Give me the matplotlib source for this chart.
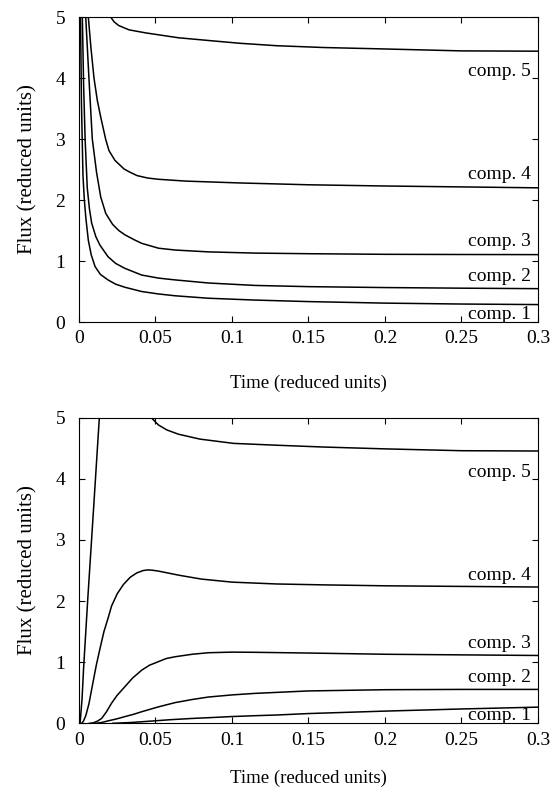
import numpy as np
import matplotlib
matplotlib.use('Agg')
import matplotlib.pyplot as plt

plt.rcParams['font.family'] = ['Liberation Serif', 'DejaVu Serif']

labels = ['comp. 1', 'comp. 2', 'comp. 3', 'comp. 4', 'comp. 5']
label_y = [0.05, 0.68, 1.24, 2.34, 4.03]
x_ticks = [0, 0.05, 0.1, 0.15, 0.2, 0.25, 0.3]
x_tick_labels = ['0', '0.05', '0.1', '0.15', '0.2', '0.25', '0.3']
y_ticks = [0, 1, 2, 3, 4, 5]

# top panel, values (None = off the top of the frame)
top_t1 = [0.001, 0.0016, 0.0026, 0.0035, 0.0045, 0.0061, 0.008, 0.0105, 0.014, 0.019, 0.024, 0.030, 0.041, 0.052,
          0.063, 0.0845, 0.115, 0.15, 0.2, 0.25, 0.3]
top_f1 = [5.0, 3.6, 2.4, 2.0, 1.7, 1.34, 1.1, 0.91, 0.78, 0.69, 0.62, 0.57, 0.50, 0.46,
          0.43, 0.39, 0.36, 0.335, 0.31, 0.295, 0.286]
top_t2 = [0.0022, 0.003, 0.004, 0.0054, 0.0068, 0.0083, 0.011, 0.0137, 0.019, 0.024, 0.030, 0.041, 0.052,
          0.063, 0.0845, 0.115, 0.15, 0.2, 0.25, 0.3]
top_f2 = [5.0, 3.9, 3.0, 2.2, 1.86, 1.62, 1.40, 1.26, 1.07, 0.96, 0.88, 0.77, 0.72,
          0.69, 0.64, 0.60, 0.58, 0.565, 0.555, 0.547]
top_t3 = [0.0044, 0.0065, 0.0087, 0.0115, 0.0142, 0.0175, 0.022, 0.026, 0.030, 0.036, 0.041, 0.052,
          0.063, 0.0845, 0.115, 0.15, 0.2, 0.25, 0.3]
top_f3 = [5.0, 4.0, 3.0, 2.45, 2.05, 1.78, 1.6, 1.5, 1.43, 1.35, 1.29, 1.21,
          1.18, 1.15, 1.13, 1.12, 1.11, 1.107, 1.105]
top_t4 = [0.0061, 0.0078, 0.0098, 0.012, 0.0142, 0.0174, 0.0196, 0.0235, 0.0294, 0.033, 0.038, 0.045, 0.052,
          0.070, 0.105, 0.15, 0.2, 0.25, 0.3]
top_f4 = [5.0, 4.5, 4.0, 3.63, 3.36, 3.0, 2.81, 2.65, 2.51, 2.46, 2.40, 2.36, 2.34,
          2.31, 2.28, 2.25, 2.23, 2.215, 2.20]
top_t5 = [0.0207, 0.023, 0.026, 0.0327, 0.0436, 0.065, 0.087, 0.105, 0.129, 0.16, 0.194, 0.25, 0.3]
top_f5 = [5.0, 4.92, 4.86, 4.79, 4.74, 4.66, 4.61, 4.57, 4.53, 4.50, 4.48, 4.445, 4.44]

# bottom panel
bot_t1 = [0.022, 0.035, 0.049, 0.06, 0.074, 0.087, 0.099, 0.115, 0.129, 0.15, 0.175, 0.2, 0.25, 0.3]
bot_f1 = [0.0, 0.015, 0.04, 0.06, 0.08, 0.095, 0.11, 0.125, 0.136, 0.16, 0.18, 0.20, 0.235, 0.265]
bot_t2 = [0.011, 0.015, 0.019, 0.025, 0.030, 0.036, 0.041, 0.052, 0.063, 0.074, 0.0845, 0.1, 0.115, 0.15, 0.2,
          0.25, 0.3]
bot_f2 = [0.0, 0.015, 0.04, 0.075, 0.11, 0.15, 0.19, 0.27, 0.34, 0.39, 0.43, 0.465, 0.49, 0.53, 0.55,
          0.555, 0.555]
bot_t3 = [0.0068, 0.0095, 0.012, 0.0148, 0.018, 0.0213, 0.025, 0.030, 0.035, 0.041, 0.046, 0.052, 0.057, 0.063,
          0.074, 0.0845, 0.1, 0.115, 0.15, 0.2, 0.25, 0.3]
bot_f3 = [0.0, 0.01, 0.035, 0.08, 0.19, 0.33, 0.46, 0.60, 0.74, 0.87, 0.95, 1.01, 1.06, 1.09,
          1.13, 1.155, 1.165, 1.162, 1.15, 1.13, 1.12, 1.11]
bot_t4 = [0.0017, 0.003, 0.0045, 0.0065, 0.009, 0.0113, 0.0137, 0.0163, 0.019, 0.0213, 0.025, 0.029, 0.0335,
          0.0377, 0.042, 0.045, 0.048, 0.052, 0.058, 0.066, 0.08, 0.1, 0.129, 0.16, 0.2, 0.25, 0.3]
bot_f4 = [0.0, 0.04, 0.13, 0.32, 0.65, 0.95, 1.22, 1.50, 1.72, 1.92, 2.12, 2.27, 2.39,
          2.46, 2.50, 2.51, 2.505, 2.49, 2.46, 2.42, 2.36, 2.31, 2.28, 2.265, 2.25, 2.24, 2.23]
bot_t5 = [0.0007, 0.002, 0.003, 0.0057, 0.0095, 0.0133, None, 0.0472, 0.052, 0.0574, 0.065, 0.079, 0.101, 0.129,
          0.16, 0.2, 0.25, 0.3]
bot_f5 = [0.0, 0.4, 0.9, 2.02, 3.5, 5.0, None, 5.0, 4.88, 4.80, 4.73, 4.65, 4.58, 4.55,
          4.52, 4.49, 4.46, 4.455]

top_series = [(top_t1, top_f1), (top_t2, top_f2), (top_t3, top_f3), (top_t4, top_f4), (top_t5, top_f5)]
bot_series = [(bot_t1, bot_f1), (bot_t2, bot_f2), (bot_t3, bot_f3), (bot_t4, bot_f4), (bot_t5, bot_f5)]

fig = plt.figure(figsize=(5.52, 7.92), dpi=100)
ax_top = fig.add_axes([0.1431, 0.5934, 0.8315, 0.3851])
ax_bot = fig.add_axes([0.1431, 0.0867, 0.8315, 0.3859])


def draw_panel(ax, series, xpad):
    for t, f in series:
        t = np.array([np.nan if v is None else v for v in t], dtype=float)
        f = np.array([np.nan if v is None else v for v in f], dtype=float)
        ax.plot(t, f, color='black', lw=1.1)
    for lab, ly in zip(labels, label_y):
        ax.text(0.2955, ly, lab, ha='right', va='baseline', fontsize=14)
    ax.set_xlim(0, 0.3)
    ax.set_ylim(0, 5)
    ax.set_xticks(x_ticks)
    ax.set_xticklabels(x_tick_labels)
    ax.set_yticks(y_ticks)
    ax.tick_params(direction='in', length=4.5, width=0.8, top=True, right=True, labelsize=14)
    ax.tick_params(axis='x', pad=6)
    ax.tick_params(axis='y', pad=10)
    for s in ax.spines.values():
        s.set_linewidth(0.8)
    ax.set_xlabel('Time (reduced units)', fontsize=13.5, labelpad=xpad)
    ax.set_ylabel('Flux (reduced units)', fontsize=15, labelpad=13)


draw_panel(ax_top, top_series, 20)
draw_panel(ax_bot, bot_series, 15)

fig.savefig('out.png', dpi=100)
